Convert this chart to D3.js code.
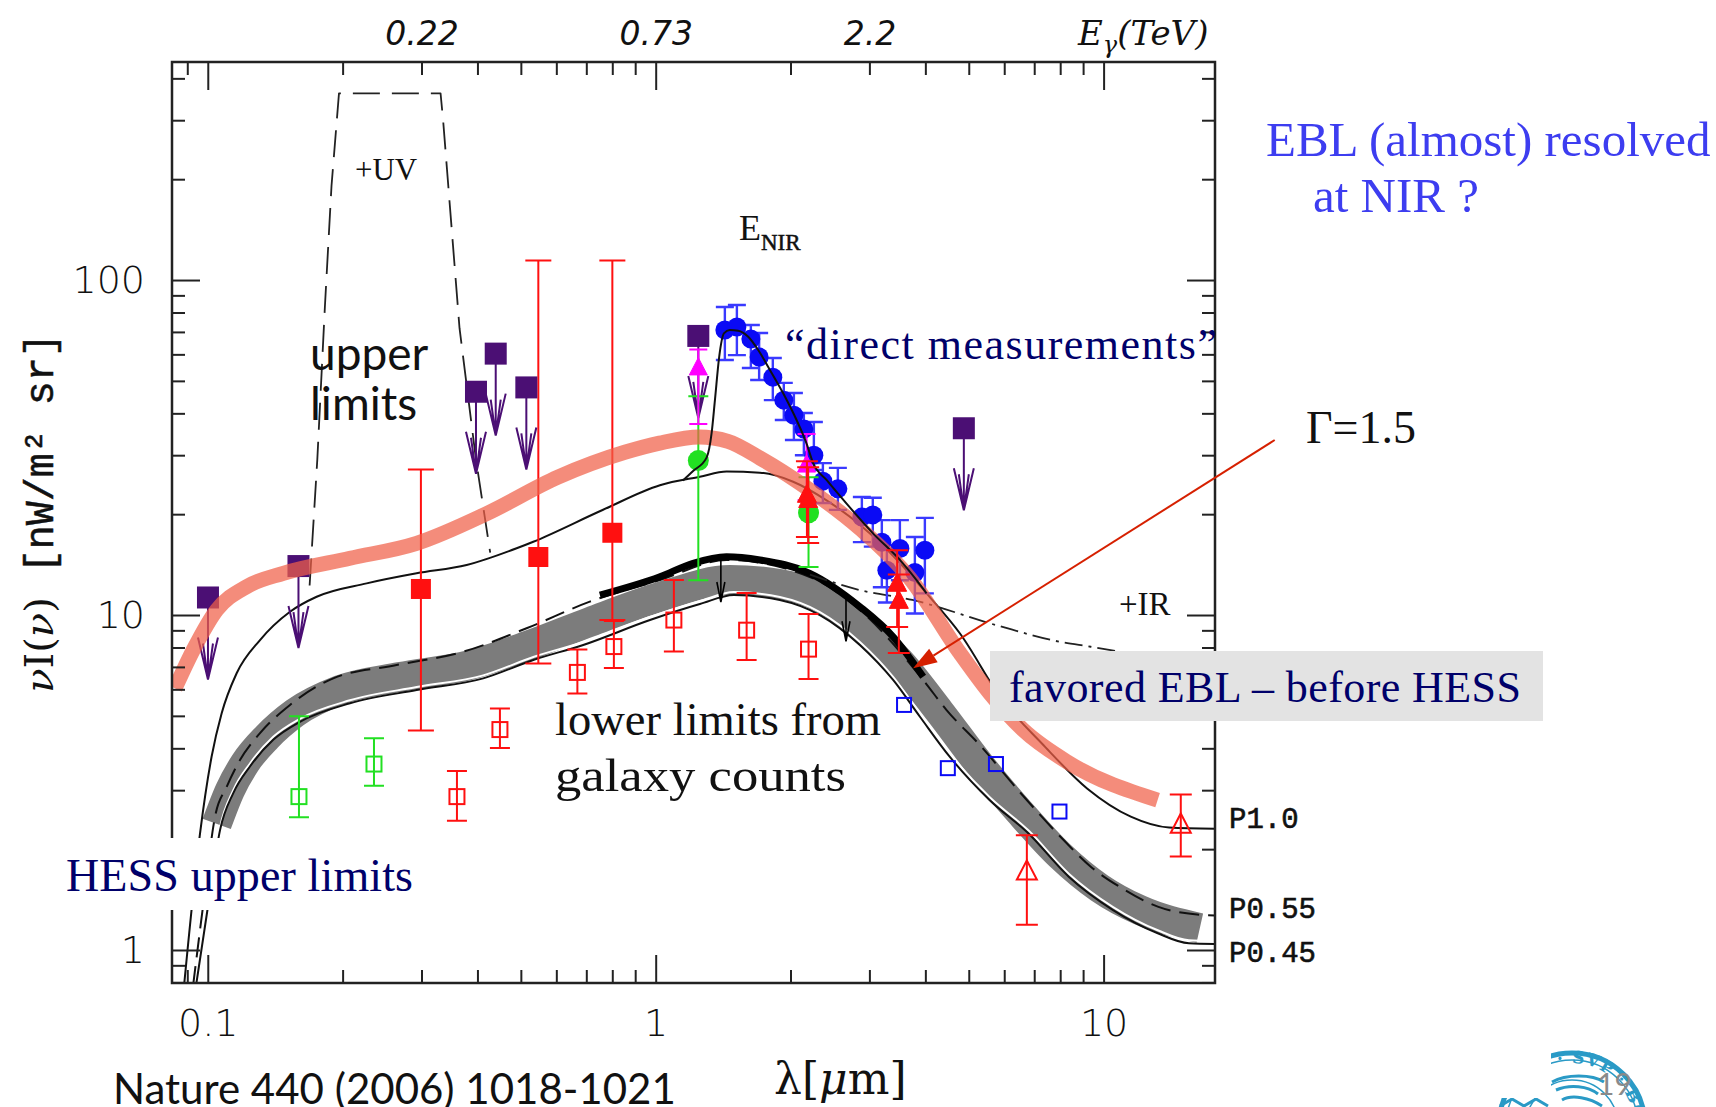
<!DOCTYPE html>
<html>
<head>
<meta charset="utf-8">
<script src="https://cdn.jsdelivr.net/npm/d3@7"></script>
<style>
  html, body { margin: 0; padding: 0; background: #fff; }
  svg { display: block; }
</style>
</head>
<body>
<svg id="chart" width="1716" height="1107"></svg>
<script>
// ---------------- axis ticks ----------------
const lambdaMajorTicks = [0.1, 1, 10];
const lambdaMinorTicks = [0.09, 0.2, 0.3, 0.4, 0.5, 0.6, 0.7, 0.8, 0.9, 2, 3, 4, 5, 6, 7, 8, 9];
const fluxMajorTicks = [1, 10, 100];
const fluxMinorTicks = [0.8, 0.9, 2, 3, 4, 5, 6, 7, 8, 9, 20, 30, 40, 50, 60, 70, 80, 90, 200, 300, 400];
const energyTickLambda = [0.3, 1, 3];
const energyTickLabels = ["0.22", "0.73", "2.2"];

// ---------------- model curves: [lambda (um), nuI(nu) (nW/m2 sr)] ----------------
const favoredEBL = [[0.0845, 6.04], [0.0928, 7.86], [0.1047, 10.35], [0.1221, 12.15], [0.1474, 13.32],
  [0.2077, 14.77], [0.2926, 16.37], [0.42, 20.1], [0.605, 25.8], [0.853, 30.6], [1.02, 32.6],
  [1.25, 34.0], [1.45, 33.0], [1.71, 29.4], [2.21, 23.6], [2.86, 18.1], [3.69, 12.9], [4.78, 7.69],
  [5.57, 5.84], [6.6, 4.55], [8.36, 3.62], [13.2, 2.80]];

const modelP10 = [[0.0885, 0.78], [0.0961, 2.23], [0.1020, 3.78], [0.1074, 5.09], [0.1160, 6.70],
  [0.1308, 8.42], [0.1526, 10.23], [0.175, 11.34], [0.2263, 12.43], [0.2926, 13.32], [0.3784, 14.10],
  [0.4893, 15.82], [0.533, 16.55], [0.7611, 20.58], [1.022, 24.4], [1.255, 25.87], [1.44, 26.8],
  [1.709, 26.6], [2.027, 25.0], [2.407, 22.0], [2.856, 18.6], [3.51, 14.3], [4.025, 11.6],
  [4.775, 8.82], [5.93, 5.6], [7.3, 4.12], [9.2, 3.03], [11.5, 2.5], [14.0, 2.32], [17.7, 2.30]];

const modelENIR = [[1.15, 25.2], [1.212, 26.9], [1.299, 29.5], [1.333, 34.9], [1.356, 43.8], [1.386, 59.0],
  [1.420, 69.3], [1.464, 70.9], [1.528, 70.6], [1.609, 67.7], [1.694, 61.8], [1.799, 53.9],
  [1.926, 45.9], [2.063, 38.2], [2.172, 32.5], [2.247, 28.4], [2.407, 25.3], [2.668, 21.5],
  [3.06, 17.5], [3.509, 14.6], [3.823, 12.7], [4.025, 11.6]];

const modelUV = [[0.1688, 12.25], [0.1756, 29.1], [0.1826, 83.4], [0.1889, 190.8], [0.1963, 361],
  [0.3309, 361], [0.3353, 299.6], [0.3648, 71.8], [0.397, 29.1], [0.4271, 15.35]];

const modelIR = [[2.21, 13.2], [2.856, 11.87], [3.741, 11.09], [5.8, 9.3], [7.98, 8.32], [9.36, 8.04], [17.7, 6.85]];

const modelP055 = [[0.0927, 0.78], [0.098, 1.41], [0.1038, 2.50], [0.1102, 3.07], [0.1180, 3.69],
  [0.1308, 4.44], [0.1526, 5.39], [0.1906, 6.47], [0.2640, 7.09], [0.3716, 7.77], [0.5149, 9.13],
  [0.7127, 10.96], [1.022, 12.72], [1.439, 14.60], [2.209, 12.99], [2.856, 10.35], [3.955, 6.40],
  [4.461, 5.20], [5.293, 4.09], [6.50, 2.96], [7.98, 2.19], [9.36, 1.773], [11.0, 1.528],
  [13.21, 1.347], [16.63, 1.272], [17.71, 1.268]];

const modelP045 = [[0.0941, 0.78], [0.1006, 1.41], [0.1065, 2.28], [0.114, 2.94], [0.1242, 3.53],
  [0.14, 4.24], [0.1606, 4.80], [0.2077, 5.45], [0.2926, 5.97], [0.412, 6.47], [0.533, 7.34],
  [0.689, 8.14], [0.971, 9.66], [1.255, 10.78], [1.495, 11.47], [1.893, 11.09], [2.326, 10.0],
  [2.856, 8.14], [3.389, 6.40], [3.89, 4.97], [4.537, 3.77], [5.57, 2.80], [6.79, 2.23],
  [8.36, 1.655], [10.5, 1.316], [13.21, 1.122], [15.5, 1.047], [17.71, 1.042]];

const allowedBand = [[0.1047, 2.38], [0.1121, 3.00], [0.1211, 3.61], [0.1356, 4.32], [0.1565, 5.10],
  [0.1973, 5.97], [0.2685, 6.53], [0.3848, 7.09], [0.5238, 8.14], [0.7127, 9.53], [1.022, 11.32],
  [1.464, 12.72], [1.893, 12.37], [2.326, 11.32], [2.856, 9.34], [3.509, 7.24], [4.31, 5.13],
  [5.293, 3.57], [6.50, 2.58], [7.98, 1.92], [9.80, 1.531], [12.04, 1.316], [16.4, 1.163]];

const hessLimit = [[0.7507, 11.47], [1.022, 13.01], [1.212, 14.27], [1.439, 14.93], [1.709, 14.60],
  [2.209, 13.32], [2.856, 10.59], [3.389, 8.61], [3.955, 6.54]];
const hessArrows = [[1.398, 14.8], [2.66, 11.3]];

// ---------------- measurements: [lambda, value, low, high] ----------------
const upperLimitSquares = [[0.1001, 11.28], [0.1594, 14.0], [0.397, 46.4], [0.4394, 60.3],
  [0.5143, 47.8], [1.245, 68.1], [4.875, 36.1]];
const redSquares = [[0.2991, 11.96, 4.52, 27.2], [0.547, 14.9, 7.17, 114.4], [0.8003, 17.6, 9.66, 114.4]];
const galaxyCountsRed = [[0.36, 2.87, 2.43, 3.42], [0.449, 4.55, 4.01, 5.26], [0.6686, 6.74, 5.83, 7.89],
  [0.8066, 8.05, 6.95, 9.60], [1.098, 9.66, 7.78, 12.72], [1.596, 9.01, 7.34, 11.63], [2.194, 7.91, 6.44, 10.07]];
const galaxyCountsGreen = [[0.1598, 2.87, 2.49, 4.99], [0.235, 3.59, 3.09, 4.29]];
const blueOpenSquares = [[3.585, 5.39], [4.49, 3.49], [5.75, 3.59], [7.97, 2.59]];
const directBlue = [[1.427, 70.9, 57.7, 83.1], [1.518, 72.4, 59.7, 84.2], [1.631, 66.7, 54.6, 73.4],
  [1.702, 58.9, 50.3, 69.5], [1.826, 51.3, 43.8, 58.5], [1.932, 43.8, 38.2, 49.3], [2.035, 39.5, 33.3, 46.0],
  [2.142, 35.9, 30.0, 40.1], [2.255, 30.0, 27.1, 37.7], [2.362, 25.1, 21.6, 28.4], [2.551, 23.8, 20.6, 27.5],
  [2.886, 19.6, 16.5, 22.5], [3.053, 19.9, 16.0, 22.4], [3.198, 16.5, 12.1, 19.2], [3.282, 13.6, 10.9, 16.2],
  [3.509, 15.8, 12.7, 19.2], [3.790, 13.4, 10.1, 17.1], [3.99, 15.6, 11.6, 19.5]];
const greenCircles = [[1.245, 28.9, 12.7, 45.0], [2.194, 20.2, 13.9, 25.8]];
const magentaTriangles = [[1.245, 54.6, 37.2, 62], [2.172, 28.0, 22.0, 34.7]];
const redTriangles = [[2.176, 22.8, 17.1, 28.8], [2.19, 22.0, 16.4, 27.6], [3.46, 12.37, 9.21, 15.6], [3.49, 11.0, 7.70, 13.2]];
const redOpenTriangles = [[6.74, 1.71, 1.19, 2.20], [14.87, 2.36, 1.90, 2.91]];

// pointer from the "Γ=1.5" note to the end of the HESS limit
const gammaArrowTail = [24.1, 33.3];
const gammaArrowHead = [3.756, 6.93];

// ---------------- colours ----------------
const RED = "#ff1010", GREEN = "#22e022", BLUE = "#0a0af5", MAGENTA = "#ff00ff", PURPLE = "#4b0f74";
const NAVY = "#00006a", LIGHTBLUE = "#3d3df0";

// ---------------- scales ----------------
const svg = d3.select("#chart");
svg.append("rect").attr("width", 1716).attr("height", 1107).attr("fill", "#fff");

const x = d3.scaleLog().domain([0.0832, 17.73]).range([172, 1215]);
const y = d3.scaleLog().domain([0.797, 447.6]).range([983, 62]);

const defs = svg.append("defs");
defs.append("clipPath").attr("id", "plotClip")
  .append("rect").attr("x", 172).attr("y", 62).attr("width", 1043).attr("height", 921);

const plot = svg.append("g").attr("clip-path", "url(#plotClip)");

const smooth = d3.line().x(d => x(d[0])).y(d => y(d[1])).curve(d3.curveMonotoneX);
const straight = d3.line().x(d => x(d[0])).y(d => y(d[1]));

function curve(g, data, gen, stroke, width, dash, extra) {
  const p = g.append("path").attr("d", gen(data)).attr("fill", "none")
    .attr("stroke", stroke).attr("stroke-width", width).attr("stroke-linejoin", "round");
  if (dash) p.attr("stroke-dasharray", dash);
  if (extra) extra(p);
  return p;
}

// ---- allowed EBL band (P0.45 - P0.55) ----
curve(plot, allowedBand, smooth, "#7c7c7c", 30);
curve(plot, modelP045, smooth, "#fff", 2, null, p => p.attr("transform", "translate(0,-3)"));
curve(plot, modelP045, smooth, "#111", 2);
curve(plot, modelP055, smooth, "#111", 2, "20 9");
curve(plot, hessLimit, smooth, "#000", 7);

// small limit arrows on the HESS curve
plot.append("g").attr("stroke", "#000").attr("stroke-width", 1.6).attr("fill", "none")
  .selectAll("path").data(hessArrows).join("path")
  .attr("d", d => {
    const cx = x(d[0]), cy = y(d[1]), tip = cy + 44;
    return `M${cx},${cy}L${cx},${tip}M${cx - 4},${tip - 20}L${cx},${tip}L${cx + 4},${tip - 20}`;
  });

// ---- model curves ----
curve(plot, modelP10, smooth, "#111", 2);
curve(plot, modelUV, straight, "#222", 1.8, "27 12");
curve(plot, modelIR, smooth, "#222", 1.8, "18 6 3 6");

// ---- helpers for points ----
function errorBars(g, data, color, half, width) {
  const gg = g.append("g").attr("stroke", color).attr("stroke-width", width || 2).attr("fill", "none");
  gg.selectAll("path").data(data).join("path").attr("d", d => {
    const cx = x(d[0]), lo = y(d[2]), hi = y(d[3]);
    return `M${cx},${lo}L${cx},${hi}M${cx - half},${lo}L${cx + half},${lo}M${cx - half},${hi}L${cx + half},${hi}`;
  });
}
function openSquares(g, data, color, size) {
  g.append("g").selectAll("rect").data(data).join("rect")
    .attr("x", d => x(d[0]) - size / 2).attr("y", d => y(d[1]) - size / 2)
    .attr("width", size).attr("height", size)
    .attr("fill", "none").attr("stroke", color).attr("stroke-width", 2);
}
function triangles(g, data, color, size, filled) {
  g.append("g").selectAll("path").data(data).join("path")
    .attr("d", d => {
      const cx = x(d[0]), cy = y(d[1]);
      return `M${cx},${cy - size * 0.58}L${cx + size / 2},${cy + size * 0.38}L${cx - size / 2},${cy + size * 0.38}Z`;
    })
    .attr("fill", filled ? color : "none").attr("stroke", color).attr("stroke-width", filled ? 1 : 2);
}

// ---- lower limits from galaxy counts ----
errorBars(plot, galaxyCountsRed, RED, 10);
openSquares(plot, galaxyCountsRed, RED, 15);
errorBars(plot, galaxyCountsGreen, GREEN, 10);
openSquares(plot, galaxyCountsGreen, GREEN, 15);
openSquares(plot, blueOpenSquares, BLUE, 14);

// ---- red squares ----
errorBars(plot, redSquares, RED, 13);
plot.append("g").selectAll("rect").data(redSquares).join("rect")
  .attr("x", d => x(d[0]) - 10).attr("y", d => y(d[1]) - 10)
  .attr("width", 20).attr("height", 20).attr("fill", RED);

// ---- upper limits (squares with arrows) ----
const ul = plot.append("g");
ul.selectAll("path").data(upperLimitSquares).join("path")
  .attr("d", d => {
    const cx = x(d[0]), cy = y(d[1]), tip = cy + 82;
    return `M${cx},${cy}L${cx},${tip}M${cx - 10},${tip - 42}L${cx},${tip}L${cx + 10},${tip - 42}` +
      `M${cx - 5},${tip - 36}L${cx},${tip}L${cx + 5},${tip - 36}`;
  })
  .attr("fill", "none").attr("stroke", PURPLE).attr("stroke-width", 2);
ul.selectAll("rect").data(upperLimitSquares).join("rect")
  .attr("x", d => x(d[0]) - 11).attr("y", d => y(d[1]) - 11)
  .attr("width", 22).attr("height", 22).attr("fill", PURPLE);

// ---- direct measurements ----
errorBars(plot, directBlue, "#3a3aff", 9, 2.4);
plot.append("g").selectAll("circle").data(directBlue).join("circle")
  .attr("cx", d => x(d[0])).attr("cy", d => y(d[1])).attr("r", 9.5)
  .attr("fill", BLUE);

// ---- green and magenta points ----
errorBars(plot, greenCircles, GREEN, 10);
plot.append("g").selectAll("circle").data(greenCircles).join("circle")
  .attr("cx", d => x(d[0])).attr("cy", d => y(d[1])).attr("r", 10.5).attr("fill", GREEN);
errorBars(plot, magentaTriangles, MAGENTA, 9);
triangles(plot, magentaTriangles, MAGENTA, 18, true);

// ---- favoured EBL shape ----
curve(plot, favoredEBL, smooth, "rgb(240,96,72)", 15, null, p => p.attr("stroke-opacity", 0.72).attr("stroke-linecap", "butt"));

// ---- E_NIR model, drawn above ----
curve(plot, modelENIR, smooth, "#111", 2);

// ---- red triangles ----
errorBars(plot, redTriangles, RED, 11);
triangles(plot, redTriangles, RED, 19, true);
errorBars(plot, redOpenTriangles, RED, 11);
triangles(plot, redOpenTriangles, RED, 20, false);

// ---------------- axes ----------------
const fmt = d => String(d);
function styleAxis(g, labelled) {
  g.select(".domain").remove();
  g.selectAll(".tick line").attr("stroke", "#222").attr("stroke-width", 2);
  if (labelled) {
    g.selectAll(".tick text").attr("font-family", "DejaVu Sans").attr("font-weight", 200)
      .attr("font-size", 38).attr("fill", "#111");
  } else {
    g.selectAll(".tick text").remove();
  }
}
svg.append("g").attr("transform", "translate(0,983)")
  .call(d3.axisBottom(x).tickValues(lambdaMajorTicks).tickSizeInner(-28).tickSizeOuter(0).tickPadding(26).tickFormat(fmt))
  .call(g => styleAxis(g, true));
svg.append("g").attr("transform", "translate(0,983)")
  .call(d3.axisBottom(x).tickValues(lambdaMinorTicks).tickSizeInner(-13).tickSizeOuter(0))
  .call(g => styleAxis(g, false));
svg.append("g").attr("transform", "translate(0,62)")
  .call(d3.axisTop(x).tickValues(lambdaMajorTicks).tickSizeInner(-28).tickSizeOuter(0))
  .call(g => styleAxis(g, false));
svg.append("g").attr("transform", "translate(0,62)")
  .call(d3.axisTop(x).tickValues(lambdaMinorTicks).tickSizeInner(-13).tickSizeOuter(0))
  .call(g => styleAxis(g, false));
svg.append("g").attr("transform", "translate(172,0)")
  .call(d3.axisLeft(y).tickValues(fluxMajorTicks).tickSizeInner(-28).tickSizeOuter(0).tickPadding(27).tickFormat(fmt))
  .call(g => styleAxis(g, true));
svg.append("g").attr("transform", "translate(172,0)")
  .call(d3.axisLeft(y).tickValues(fluxMinorTicks).tickSizeInner(-13).tickSizeOuter(0))
  .call(g => styleAxis(g, false));
svg.append("g").attr("transform", "translate(1215,0)")
  .call(d3.axisRight(y).tickValues(fluxMajorTicks).tickSizeInner(-28).tickSizeOuter(0))
  .call(g => styleAxis(g, false));
svg.append("g").attr("transform", "translate(1215,0)")
  .call(d3.axisRight(y).tickValues(fluxMinorTicks).tickSizeInner(-13).tickSizeOuter(0))
  .call(g => styleAxis(g, false));

// photon energy scale on top
svg.append("g").attr("transform", "translate(0,62)")
  .call(d3.axisTop(x).tickValues(energyTickLambda).tickSize(0).tickPadding(17).tickFormat((d, i) => energyTickLabels[i]))
  .call(g => {
    g.select(".domain").remove();
    g.selectAll("line").remove();
    g.selectAll("text").attr("font-family", "DejaVu Sans").attr("font-style", "italic")
      .attr("font-size", 33).attr("fill", "#111");
  });

svg.append("rect").attr("x", 172).attr("y", 62).attr("width", 1043).attr("height", 921)
  .attr("fill", "none").attr("stroke", "#222").attr("stroke-width", 2.5);

// ---------------- axis titles ----------------
const eTitle = svg.append("text").attr("x", 1078).attr("y", 45)
  .attr("font-family", "DejaVu Serif").attr("font-style", "italic").attr("font-size", 34).attr("fill", "#111");
eTitle.append("tspan").text("E");
eTitle.append("tspan").attr("font-size", 24).attr("dy", 8).text("γ");
eTitle.append("tspan").attr("dy", -8).text("(TeV)");

const xTitle = svg.append("text").attr("x", 774).attr("y", 1094)
  .attr("font-family", "DejaVu Serif").attr("font-size", 44).attr("fill", "#111");
xTitle.append("tspan").text("λ[");
xTitle.append("tspan").attr("font-style", "italic").text("μ");
xTitle.append("tspan").text("m]");

const yTitle = svg.append("text").attr("transform", "translate(53,513) rotate(-90)")
  .attr("text-anchor", "middle").attr("font-size", 40).attr("fill", "#111");
yTitle.append("tspan").attr("font-family", "DejaVu Serif").attr("font-style", "italic").text("ν");
yTitle.append("tspan").attr("font-family", "DejaVu Serif").text("I(");
yTitle.append("tspan").attr("font-family", "DejaVu Serif").attr("font-style", "italic").text("ν");
yTitle.append("tspan").attr("font-family", "DejaVu Serif").text(")");
yTitle.append("tspan").attr("font-family", "Liberation Mono").attr("stroke", "#111").attr("stroke-width", 0.5)
  .text("  [nW/m² sr]");

// ---------------- labels inside the plot ----------------
function label(txt, px, py, opts) {
  const t = svg.append("text").attr("x", px).attr("y", py).text(txt)
    .attr("font-family", opts.family || "Liberation Serif").attr("font-size", opts.size)
    .attr("fill", opts.fill || "#111");
  if (opts.len) t.attr("textLength", opts.len).attr("lengthAdjust", opts.adjust || "spacing");
  if (opts.weight) t.attr("font-weight", opts.weight);
  if (opts.stroke) t.attr("stroke", opts.fill || "#111").attr("stroke-width", opts.stroke);
  return t;
}
label("+UV", 355, 180, { size: 31 });
label("+IR", 1119, 615, { size: 33 });
const enir = svg.append("text").attr("x", 739).attr("y", 240)
  .attr("font-family", "Liberation Serif").attr("font-size", 36).attr("fill", "#111");
enir.append("tspan").text("E");
enir.append("tspan").attr("font-size", 23).attr("dy", 10).attr("stroke", "#111").attr("stroke-width", 0.5).text("NIR");

label("P1.0", 1229, 828, { family: "Liberation Mono", size: 29, stroke: 0.6 });
label("P0.55", 1229, 918, { family: "Liberation Mono", size: 29, stroke: 0.6 });
label("P0.45", 1229, 962, { family: "Liberation Mono", size: 29, stroke: 0.6 });

label("upper", 310, 370, { family: "Lato", size: 46 });
label("limits", 310, 420, { family: "Lato", size: 46 });

label("\u201Cdirect measurements\u201D", 785, 359, { size: 44, fill: NAVY, len: 432 });
label("lower limits from", 555, 735, { size: 46, len: 326, adjust: "spacingAndGlyphs" });
label("galaxy counts", 555, 791, { size: 47, len: 291, adjust: "spacingAndGlyphs" });

// favoured EBL note
svg.append("rect").attr("x", 990).attr("y", 651).attr("width", 553).attr("height", 70).attr("fill", "#e3e3e3");
label("favored EBL \u2013 before HESS", 1009, 702, { size: 44, fill: NAVY, len: 512 });

// HESS upper limits note
svg.append("rect").attr("x", 55).attr("y", 838).attr("width", 370).attr("height", 72).attr("fill", "#fff");
label("HESS upper limits", 66, 891, { size: 46, fill: NAVY, len: 347 });

// Γ=1.5 pointer
label("Γ=1.5", 1306, 443, { size: 46 });
{
  const x0 = x(gammaArrowTail[0]), y0 = y(gammaArrowTail[1]);
  const x1 = x(gammaArrowHead[0]), y1 = y(gammaArrowHead[1]);
  const ang = Math.atan2(y1 - y0, x1 - x0);
  const L = 24, W = 8;
  const bx = x1 - L * Math.cos(ang), by = y1 - L * Math.sin(ang);
  svg.append("line").attr("x1", x0).attr("y1", y0).attr("x2", bx).attr("y2", by)
    .attr("stroke", "#d62000").attr("stroke-width", 2);
  svg.append("path")
    .attr("d", `M${x1},${y1}L${bx + W * Math.sin(ang)},${by - W * Math.cos(ang)}L${bx - W * Math.sin(ang)},${by + W * Math.cos(ang)}Z`)
    .attr("fill", "#d62000");
}

// headline on the right
label("EBL (almost) resolved", 1266, 156, { size: 49, fill: LIGHTBLUE });
label("at NIR ?", 1313, 212, { size: 49, fill: LIGHTBLUE });

// reference
label("Nature 440 (2006) 1018-1021", 113, 1104, { family: "Lato", size: 42 });

// ---------------- seal in the corner ----------------
const TEAL = "#2a9ac6";
const seal = svg.append("g");
seal.append("circle").attr("cx", 1572).attr("cy", 1126).attr("r", 73).attr("fill", "none")
  .attr("stroke", TEAL).attr("stroke-width", 5);
seal.append("circle").attr("cx", 1572).attr("cy", 1126).attr("r", 66).attr("fill", "none")
  .attr("stroke", TEAL).attr("stroke-width", 1.5);
seal.append("circle").attr("cx", 1572).attr("cy", 1126).attr("r", 46).attr("fill", "none")
  .attr("stroke", TEAL).attr("stroke-width", 1.5);
defs.append("path").attr("id", "sealArc")
  .attr("d", "M1512,1115 A61,61 0 0 1 1633,1118");
seal.append("text").attr("font-family", "DejaVu Serif").attr("font-weight", "bold").attr("font-size", 17)
  .attr("fill", TEAL).attr("letter-spacing", 1)
  .append("textPath").attr("href", "#sealArc").attr("startOffset", "20%").text("VD · SVP · BOLO");
seal.append("path").attr("d", "M1552,1082 C1566,1074 1592,1074 1604,1082 M1556,1090 C1570,1084 1588,1086 1598,1094 M1562,1100 C1572,1094 1590,1098 1602,1106")
  .attr("fill", "none").attr("stroke", TEAL).attr("stroke-width", 3);
seal.append("path").attr("d", "M1500,1106 L1512,1099 L1524,1106 L1536,1099 L1548,1106")
  .attr("fill", "none").attr("stroke", TEAL).attr("stroke-width", 3);
svg.append("rect").attr("x", 1440).attr("y", 1035).attr("width", 111).attr("height", 63).attr("fill", "#fff");
label("19", 1597, 1095, { family: "Lato", size: 30, fill: "#8a8a8a" });
</script>
</body>
</html>
